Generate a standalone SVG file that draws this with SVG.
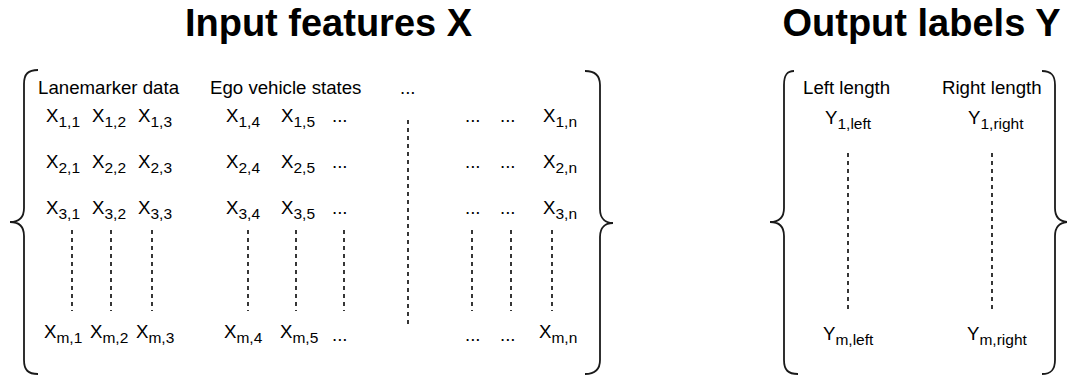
<svg xmlns="http://www.w3.org/2000/svg" width="1067" height="376" viewBox="0 0 1067 376">
<style>
.title{font-family:"Liberation Sans",Arial,sans-serif;font-weight:bold;font-size:38px;fill:#000;text-anchor:middle}
.t{font-family:"Liberation Sans",Arial,sans-serif;font-size:18.67px;fill:#000}
.s{font-size:15.5px}
.brace{fill:none;stroke:#1a1a1a;stroke-width:1.8}
.dash{stroke:#222;stroke-width:1.8;stroke-dasharray:4 4}
</style>
<rect width="1067" height="376" fill="#fff"/>
<g id="title-x"><text class="title" x="328.5" y="36">Input features X</text></g>
<g id="title-y"><text class="title" x="921.5" y="36">Output labels Y</text></g>

<g id="matrix-x">
<path class="brace" d="M38,70 C28,70 24,74 24,84 L24,208 C24,218 18,222 10,222 C18,222 24,226 24,236 L24,360 C24,370 28,374 38,374"/>
<path class="brace" d="M585,71 C595,71 600,75 600,85 L600,209 C600,219 606,223 613,223 C606,223 600,227 600,237 L600,360 C600,370 595,374 585,374"/>
<text class="t" x="38" y="94">Lanemarker data</text>
<text class="t" x="210" y="94">Ego vehicle states</text>
<text class="t" x="400" y="94">...</text>

<g id="row-1">
<text class="t" x="46" y="122">X<tspan class="s" dy="5">1,1</tspan></text>
<text class="t" x="92" y="122">X<tspan class="s" dy="5">1,2</tspan></text>
<text class="t" x="138" y="122">X<tspan class="s" dy="5">1,3</tspan></text>
<text class="t" x="226" y="122">X<tspan class="s" dy="5">1,4</tspan></text>
<text class="t" x="281" y="122">X<tspan class="s" dy="5">1,5</tspan></text>
<text class="t" x="332" y="122">...</text>
<text class="t" x="465" y="122">...</text>
<text class="t" x="500" y="122">...</text>
<text class="t" x="543" y="122">X<tspan class="s" dy="5">1,n</tspan></text>
</g>
<g id="row-2">
<text class="t" x="46" y="168">X<tspan class="s" dy="5">2,1</tspan></text>
<text class="t" x="92" y="168">X<tspan class="s" dy="5">2,2</tspan></text>
<text class="t" x="138" y="168">X<tspan class="s" dy="5">2,3</tspan></text>
<text class="t" x="226" y="168">X<tspan class="s" dy="5">2,4</tspan></text>
<text class="t" x="281" y="168">X<tspan class="s" dy="5">2,5</tspan></text>
<text class="t" x="332" y="168">...</text>
<text class="t" x="465" y="168">...</text>
<text class="t" x="500" y="168">...</text>
<text class="t" x="543" y="168">X<tspan class="s" dy="5">2,n</tspan></text>
</g>
<g id="row-3">
<text class="t" x="46" y="214">X<tspan class="s" dy="5">3,1</tspan></text>
<text class="t" x="92" y="214">X<tspan class="s" dy="5">3,2</tspan></text>
<text class="t" x="138" y="214">X<tspan class="s" dy="5">3,3</tspan></text>
<text class="t" x="226" y="214">X<tspan class="s" dy="5">3,4</tspan></text>
<text class="t" x="281" y="214">X<tspan class="s" dy="5">3,5</tspan></text>
<text class="t" x="332" y="214">...</text>
<text class="t" x="465" y="214">...</text>
<text class="t" x="500" y="214">...</text>
<text class="t" x="543" y="214">X<tspan class="s" dy="5">3,n</tspan></text>
</g>
<g id="row-m">
<text class="t" x="44" y="338">X<tspan class="s" dy="5">m,1</tspan></text>
<text class="t" x="90" y="338">X<tspan class="s" dy="5">m,2</tspan></text>
<text class="t" x="136" y="338">X<tspan class="s" dy="5">m,3</tspan></text>
<text class="t" x="224" y="338">X<tspan class="s" dy="5">m,4</tspan></text>
<text class="t" x="280" y="338">X<tspan class="s" dy="5">m,5</tspan></text>
<text class="t" x="332" y="341">...</text>
<text class="t" x="465" y="341">...</text>
<text class="t" x="500" y="341">...</text>
<text class="t" x="539" y="338">X<tspan class="s" dy="5">m,n</tspan></text>
</g>
</g>

<g id="matrix-y">
<path class="brace" d="M794,71 C787,71 784,75 784,85 L784,208 C784,218 778,222 770,222 C778,222 784,226 784,236 L784,360 C784,370 788,374 798,374"/>
<path class="brace" d="M1042,71 C1051,71 1055,75 1055,85 L1055,208 C1055,218 1061,222 1069,222 C1061,222 1055,226 1055,236 L1055,360 C1055,370 1051,374 1042,374"/>
<text class="t" x="803" y="94">Left length</text>
<text class="t" x="942" y="94">Right length</text>
<text class="t" x="825" y="124">Y<tspan class="s" dy="5">1,left</tspan></text>
<text class="t" x="968" y="124">Y<tspan class="s" dy="5">1,right</tspan></text>
<text class="t" x="823" y="340">Y<tspan class="s" dy="5">m,left</tspan></text>
<text class="t" x="967" y="340">Y<tspan class="s" dy="5">m,right</tspan></text>
</g>

<g id="connectors">
<line class="dash" x1="72" y1="230" x2="72" y2="311"/>
<line class="dash" x1="111" y1="230" x2="111" y2="311"/>
<line class="dash" x1="152" y1="230" x2="152" y2="311"/>
<line class="dash" x1="248" y1="230" x2="248" y2="311"/>
<line class="dash" x1="296" y1="230" x2="296" y2="311"/>
<line class="dash" x1="344" y1="230" x2="344" y2="311"/>
<line class="dash" x1="408" y1="120" x2="408" y2="327"/>
<line class="dash" x1="472" y1="230" x2="472" y2="311"/>
<line class="dash" x1="511" y1="230" x2="511" y2="311"/>
<line class="dash" x1="552" y1="230" x2="552" y2="311"/>
<line class="dash" x1="848" y1="153" x2="848" y2="311"/>
<line class="dash" x1="992" y1="153" x2="992" y2="311"/>
</g>
</svg>
